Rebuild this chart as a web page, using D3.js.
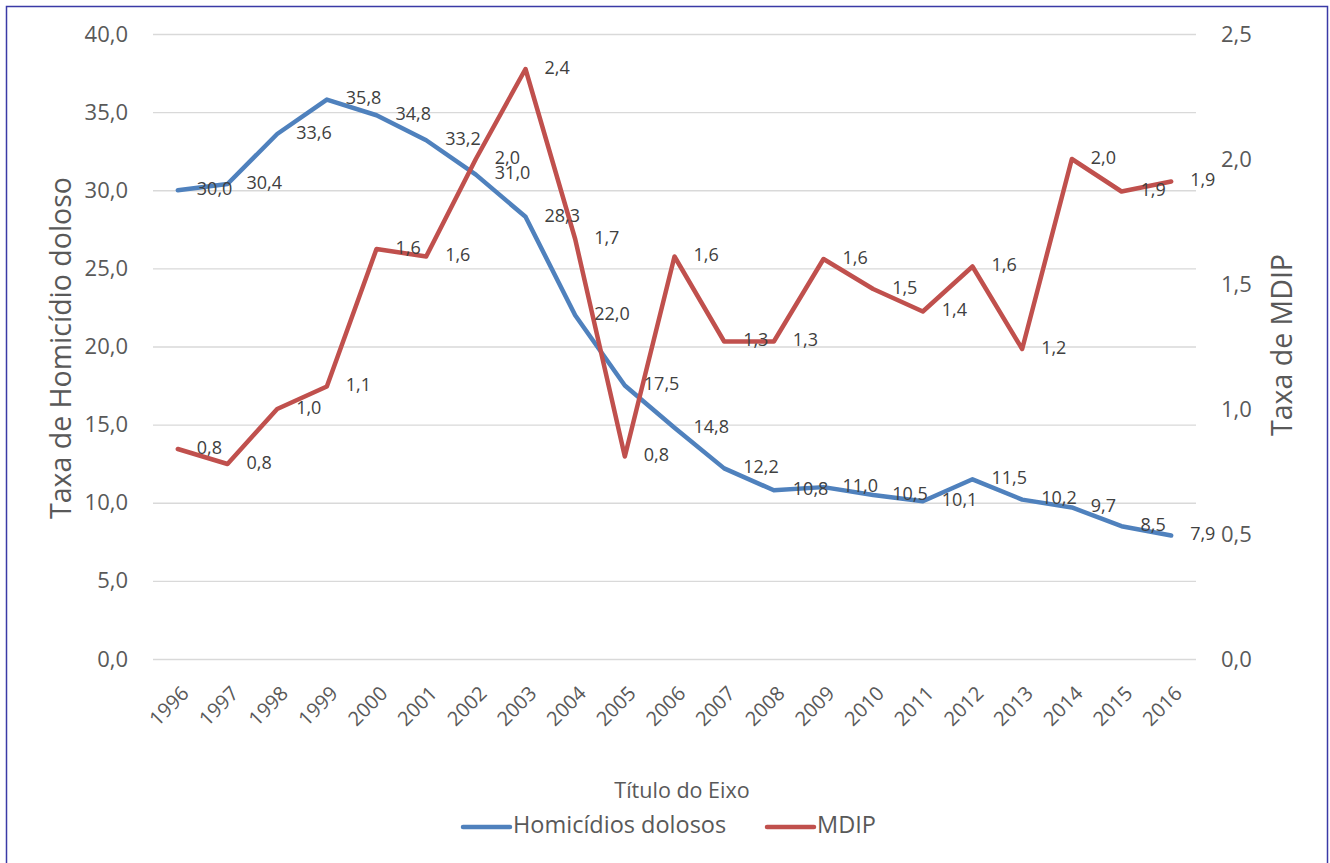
<!DOCTYPE html>
<html lang="pt">
<head>
<meta charset="UTF-8"/>
<title>Homicídios dolosos e MDIP</title>
<style>
  body { margin: 0; background: #ffffff; font-family: "Open Sans", sans-serif; }
  svg { display: block; }
  .grid line { stroke: #d9d9d9; stroke-width: 1.3; }
  .grid path { display: none; }
  .axis path, .axis line { display: none; }
  .axis text { fill: #595959; font-size: 22px; font-family: "Open Sans", sans-serif; }
  .xaxis text { font-size: 20px; }
  .axis_title { fill: #595959; font-size: 28.5px; }
  .value_text { fill: #404040; font-size: 18px; }
  .legend_text { fill: #595959; font-size: 23.5px; }
</style>
</head>
<body>
<svg width="1330" height="863"></svg>
<script src="https://d3js.org/d3.v7.min.js"></script>
<script>
  const years = ["1996","1997","1998","1999","2000","2001","2002","2003","2004","2005","2006",
                 "2007","2008","2009","2010","2011","2012","2013","2014","2015","2016"];
  const homicidios = [30.0, 30.4, 33.6, 35.8, 34.8, 33.2, 31.0, 28.3, 22.0, 17.5, 14.8,
                      12.2, 10.8, 11.0, 10.5, 10.1, 11.5, 10.2, 9.7, 8.5, 7.9];
  const mdip = [0.84, 0.78, 1.0, 1.09, 1.64, 1.61, 2.0, 2.36, 1.68, 0.81, 1.61,
                1.27, 1.27, 1.6, 1.48, 1.39, 1.57, 1.24, 2.0, 1.87, 1.91];
  const leftTicks = [0, 5, 10, 15, 20, 25, 30, 35, 40];
  const rightTicks = [0, 0.5, 1.0, 1.5, 2.0, 2.5];
  const seriesNames = ["Homicídios dolosos", "MDIP"];

  const blue = "#4f81bd";
  const red = "#c0504d";

  const svg = d3.select("svg");
  const fmt = v => d3.format(".1f")(v).replace(".", ",");

  // outer border (bottom edge falls outside the picture)
  svg.append("rect")
    .attr("x", 6.5).attr("y", 6.5)
    .attr("width", 1321).attr("height", 880)
    .attr("fill", "none")
    .attr("stroke", "#3a3aa6")
    .attr("stroke-width", 1.5);

  const plotLeft = 153, plotRight = 1196, plotTop = 34, plotBottom = 659;

  const x = d3.scalePoint()
    .domain(years)
    .range([plotLeft, plotRight])
    .padding(0.5);

  const yLeft = d3.scaleLinear().domain([0, 40]).range([plotBottom, plotTop]);
  const yRight = d3.scaleLinear().domain([0, 2.5]).range([plotBottom, plotTop]);

  // gridlines
  svg.append("g")
    .attr("class", "grid")
    .attr("transform", `translate(${plotLeft}, 0)`)
    .call(d3.axisLeft(yLeft).tickValues(leftTicks).tickSize(-(plotRight - plotLeft)).tickFormat(""));

  // left axis
  svg.append("g")
    .attr("class", "axis")
    .attr("transform", `translate(${plotLeft - 14}, 0)`)
    .call(d3.axisLeft(yLeft).tickValues(leftTicks).tickFormat(fmt).tickSize(0).tickPadding(11));

  // right axis
  svg.append("g")
    .attr("class", "axis")
    .attr("transform", `translate(${plotRight + 14}, 0)`)
    .call(d3.axisRight(yRight).tickValues(rightTicks).tickFormat(fmt).tickSize(0).tickPadding(11));

  // x axis
  const xAxis = svg.append("g")
    .attr("class", "axis xaxis")
    .attr("transform", `translate(0, ${plotBottom})`)
    .call(d3.axisBottom(x).tickSize(0).tickPadding(0));
  xAxis.selectAll("text")
    .attr("y", 0).attr("dy", 0)
    .attr("transform", "translate(8, 32) rotate(-45)")
    .style("text-anchor", "end")
    .attr("dominant-baseline", "middle");

  // axis titles
  svg.append("text")
    .attr("class", "axis_title")
    .attr("transform", "translate(71, 348) rotate(-90)")
    .attr("text-anchor", "middle")
    .text("Taxa de Homicídio doloso");

  svg.append("text")
    .attr("class", "axis_title")
    .attr("transform", "translate(1292, 345) rotate(-90)")
    .attr("text-anchor", "middle")
    .text("Taxa de MDIP");

  svg.append("text")
    .attr("class", "axis_title")
    .attr("x", 682).attr("y", 798)
    .attr("text-anchor", "middle")
    .style("font-size", "21.5px")
    .text("Título do Eixo");

  // lines
  const series = [
    { name: seriesNames[0], values: homicidios, y: yLeft, color: blue },
    { name: seriesNames[1], values: mdip, y: yRight, color: red }
  ];

  series.forEach(s => {
    const line = d3.line()
      .x((d, i) => x(years[i]))
      .y(d => s.y(d));
    svg.append("path")
      .datum(s.values)
      .attr("fill", "none")
      .attr("stroke", s.color)
      .attr("stroke-width", 4.5)
      .attr("stroke-linejoin", "round")
      .attr("stroke-linecap", "round")
      .attr("d", line);
  });

  // data labels
  series.forEach(s => {
    svg.append("g").selectAll("text")
      .data(s.values)
      .enter()
      .append("text")
      .attr("class", "value_text")
      .attr("x", (d, i) => x(years[i]) + 19)
      .attr("y", d => s.y(d))
      .attr("dominant-baseline", "middle")
      .text(d => fmt(d));
  });

  // legend
  const legend = svg.append("g").attr("transform", "translate(0, 827)");
  const legendItems = [
    { name: seriesNames[0], color: blue, x: 463 },
    { name: seriesNames[1], color: red, x: 767 }
  ];
  legendItems.forEach(l => {
    legend.append("line")
      .attr("x1", l.x).attr("x2", l.x + 47)
      .attr("y1", 0).attr("y2", 0)
      .attr("stroke", l.color)
      .attr("stroke-width", 4.5)
      .attr("stroke-linecap", "round");
    legend.append("text")
      .attr("class", "legend_text")
      .attr("x", l.x + 50)
      .attr("y", 0)
      .attr("dominant-baseline", "middle")
      .text(l.name);
  });
</script>
</body>
</html>
